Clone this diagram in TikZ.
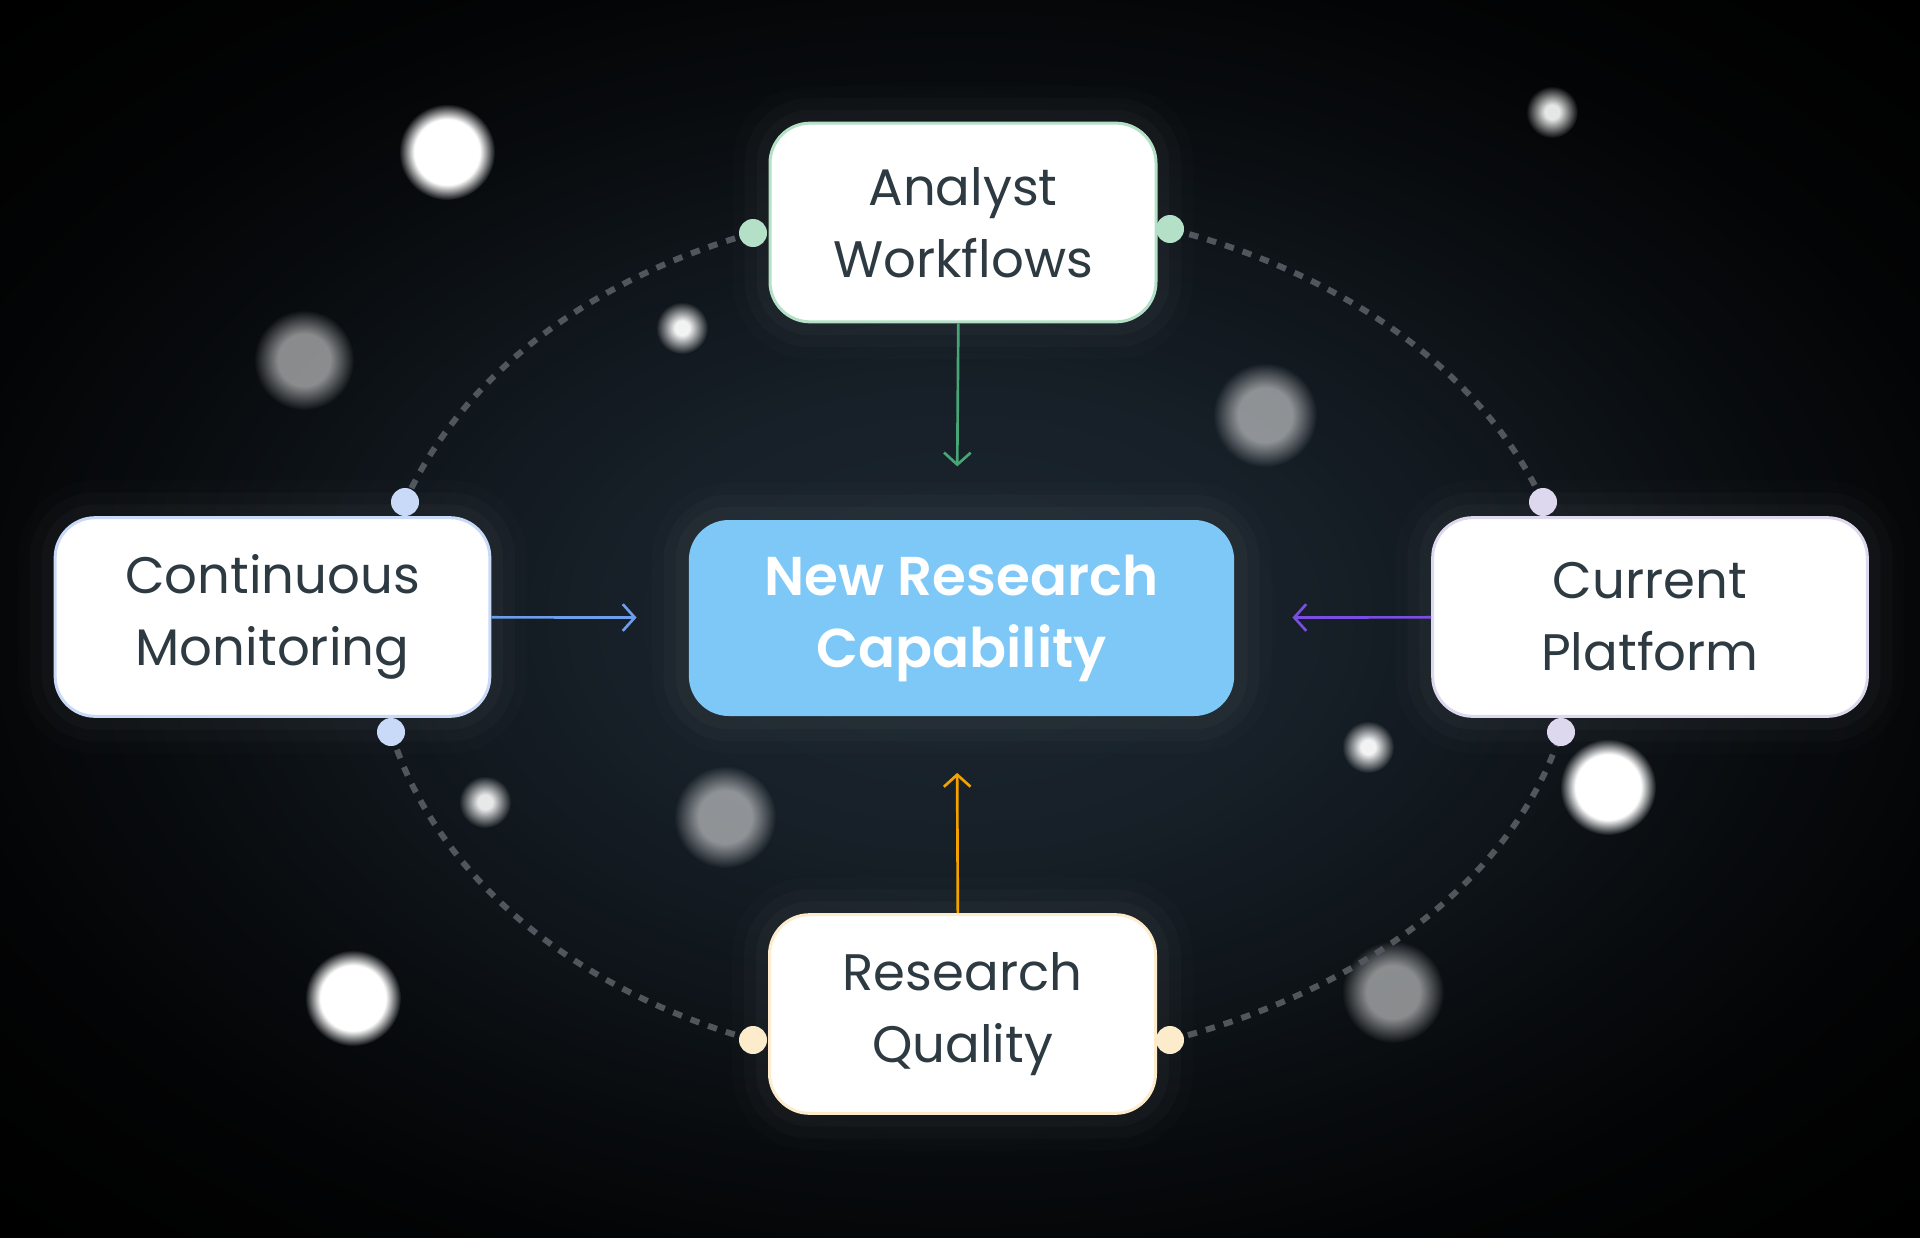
\documentclass[tikz,border=0pt]{standalone}
\usepackage{fontspec}
\setmainfont{Poppins}[BoldFont={Poppins SemiBold}]
\usepackage{xcolor}
\usetikzlibrary{arrows.meta}
\usetikzlibrary{fadings}

\definecolor{bgin}{RGB}{28,38,47}
\definecolor{bgmid}{RGB}{23,32,40}
\definecolor{bgout}{RGB}{15,21,26}
\definecolor{bgdark}{RGB}{8,11,14}
\definecolor{bgedge}{RGB}{3,4,5}
\definecolor{cardtext}{RGB}{45,58,66}
\definecolor{hubfill}{RGB}{125,200,247}
\definecolor{awline}{RGB}{180,224,200}
\definecolor{cmline}{RGB}{200,218,247}
\definecolor{cpline}{RGB}{222,216,238}
\definecolor{rqline}{RGB}{252,236,204}
\definecolor{awarrow}{RGB}{72,165,118}
\definecolor{cmarrow}{RGB}{108,158,235}
\definecolor{cparrow}{RGB}{122,78,226}
\definecolor{rqarrow}{RGB}{245,162,0}
\definecolor{ringgray}{RGB}{80,86,92}

\pgfdeclareradialshading{bgglow}{\pgfpointorigin}{color(0bp)=(bgin); color(9bp)=(bgmid); color(16bp)=(bgout); color(22bp)=(bgdark); color(27bp)=(bgedge); color(35bp)=(black); color(50bp)=(black)}
\pgfdeclareradialshading{bokehshade}{\pgfpointorigin}{color(0bp)=(white); color(17bp)=(white); color(25bp)=(black); color(50bp)=(black)}
\pgfdeclarefading{bokeh}{\pgfuseshading{bokehshade}}
\pgfdeclareradialshading{bokehhazeshade}{\pgfpointorigin}{color(0bp)=(white); color(13bp)=(white); color(25bp)=(black); color(50bp)=(black)}
\pgfdeclarefading{bokehhaze}{\pgfuseshading{bokehhazeshade}}
\pgfdeclareradialshading{bokehsoftshade}{\pgfpointorigin}{color(0bp)=(white); color(7bp)=(white); color(25bp)=(black); color(50bp)=(black)}
\pgfdeclarefading{bokehsoft}{\pgfuseshading{bokehsoftshade}}

\begin{document}
\begin{tikzpicture}[x=0.75pt,y=0.75pt,yscale=-1,xscale=1,
  glow/.style={preaction={draw=white,draw opacity=0.012,line width=56pt},
               preaction={draw=white,draw opacity=0.018,line width=38pt},
               preaction={draw=white,draw opacity=0.025,line width=20pt}},
  card/.style={rectangle,rounded corners=30pt,fill=white,line width=2.25pt,
               minimum height=149pt,align=center,text=cardtext,
               font=\fontsize{38.5}{54}\selectfont,glow},
  hub/.style={rectangle,rounded corners=30pt,fill=hubfill,
              minimum width=409pt,minimum height=147pt,align=center,text=white,
              font=\fontsize{41}{54}\selectfont\bfseries,glow},
  flow/.style={line width=2pt,-{Straight Barb[length=9pt,width=20pt]}},
  ring/.style={draw=ringgray,line width=4.5pt,dash pattern=on 7pt off 7pt},
  blob/.style={fill=white,path fading=bokeh},
  haze/.style={fill=white,fill opacity=0.52,path fading=bokehhaze},
  speck/.style={fill=white,path fading=bokehsoft}]

\useasboundingbox (0,0) rectangle (1920,1238);
%Shape: Rectangle (background)
\shade [shading=bgglow] (0,0) rectangle (1920,1238);

%Shape: Circle (bokeh)
\fill [blob] (447,152) circle (48);
\fill [haze] (304,360) circle (50);
\fill [speck,fill opacity=0.95] (682,328) circle (26);
\fill [speck,fill opacity=0.9] (1552,112) circle (26);
\fill [haze] (1265,415) circle (52);
\fill [speck,fill opacity=0.9] (485,802) circle (26);
\fill [haze] (725,817) circle (51);
\fill [blob] (353,998) circle (48);
\fill [speck,fill opacity=0.95] (1368,747) circle (26);
\fill [blob] (1608,787) circle (48);
\fill [haze] (1393,992) circle (51);

% Ring points
\coordinate (aw-l) at (753,233);
\coordinate (aw-r) at (1170,229);
\coordinate (cm-t) at (405,502);
\coordinate (cm-b) at (391,732);
\coordinate (cp-t) at (1543,502);
\coordinate (cp-b) at (1561,732);
\coordinate (rq-l) at (753,1040);
\coordinate (rq-r) at (1170,1040);

%Curve Lines (dashed ring)
\draw [ring] (aw-l) .. controls +(-165,46.5) and +(55,-124) .. (cm-t);
\draw [ring] (cm-b) .. controls +(43.5,140.8) and +(-183.3,-51.5) .. (rq-l);
\draw [ring] (rq-r) .. controls +(195.6,-50.4) and +(-46.5,145) .. (cp-b);
\draw [ring] (cp-t) .. controls +(-58.4,-126.7) and +(177.5,45.4) .. (aw-r);

% Text Node
\node [hub] (hub) at (961.5,618) {New Research\\Capability};
% Text Node
\node [card,draw=awline,minimum width=289.5pt] (aw) at (963,222.5) {Analyst\\Workflows};
% Text Node
\node [card,draw=cmline,minimum width=326pt] (cm) at (272.5,617) {Continuous\\Monitoring};
% Text Node
\node [card,draw=cpline,minimum width=326pt] (cp) at (1650,617) {Current\\Platform};
% Text Node
\node [card,draw=rqline,minimum width=289.5pt] (rq) at (962.5,1014) {Research\\Quality};

%Straight Lines
\draw [flow,awarrow,shorten >=40pt] ([xshift=-3.5pt]aw.south) -- ([xshift=-3.5pt]hub.north);
\draw [flow,cmarrow,shorten >=39pt] (cm) -- (hub);
\draw [flow,cparrow,shorten >=43.5pt] (cp) -- (hub);
\draw [flow,rqarrow,shorten >=42.5pt] ([xshift=-3.5pt]rq.north) -- ([xshift=-3.5pt]hub.south);

%Shape: Circle (ring dots)
\fill [awline] (aw-l) circle (14);
\fill [awline] (aw-r) circle (14);
\fill [cmline] (cm-t) circle (14);
\fill [cmline] (cm-b) circle (14);
\fill [cpline] (cp-t) circle (14);
\fill [cpline] (cp-b) circle (14);
\fill [rqline] (rq-l) circle (14);
\fill [rqline] (rq-r) circle (14);

\end{tikzpicture}
\end{document}
